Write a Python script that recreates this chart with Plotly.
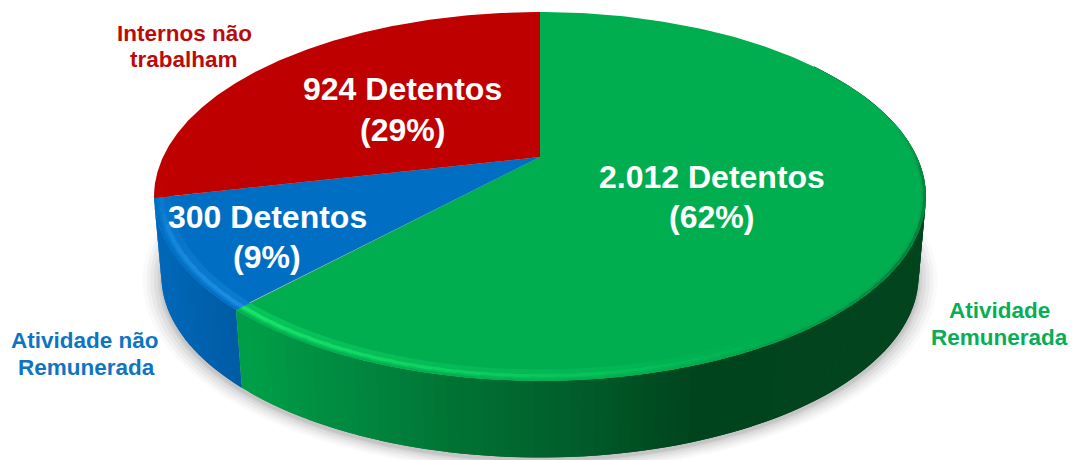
import numpy as np
import plotly.graph_objects as go

categories = ["Atividade<br>Remunerada", "Atividade não<br>Remunerada", "Internos não<br>trabalham"]
values = [2012, 300, 924]
percents = [62, 9, 29]
top_colors = ["#00AE50", "#006EC2", "#BF0000"]
label_colors = ["#06AE56", "#0F74C2", "#BC0A0A"]

# projection of the pie's disc, in page pixels
CX, CY, A, B, K = 540.0, 157.0, 377.0, 176.0, 0.214
DEPTH, INSET = 80.0, 0.981


def project(t, r=1.0, low=False):
    """t = clockwise angle from 12 o'clock, in degrees."""
    # small angular correction of the reference's 3-D rendering
    a = np.radians(np.asarray(t) + np.interp(t, [0, 224, 257, 360], [0, -1.0, 0, 0]))
    x, y = r * np.sin(a), r * np.cos(a)
    w = 1 + K * y
    px, py = A * x / w, -B * y / w
    if low:
        return CX + px * INSET, CY + py * 0.985 + DEPTH
    return CX + px, CY + py


def hex2rgb(h):
    return np.array([int(h[i:i + 2], 16) for i in (1, 3, 5)], float)


def rgb(c):
    c = np.clip(c, 0, 255).astype(int)
    return f"rgb({c[0]},{c[1]},{c[2]})"


def ramp(x, stops):
    xs = [s[0] for s in stops]
    return np.array([np.interp(x, xs, [hex2rgb(s[1])[i] for s in stops]) for i in range(3)])


GREEN_SIDE = [(238, "#00A049"), (350, "#008840"), (450, "#007334"), (560, "#005F2C"),
              (690, "#00441E"), (925, "#03441F")]
BLUE_SIDE = [(155, "#0068BA"), (190, "#0063B0"), (240, "#005BA3")]
side_ramps = [GREEN_SIDE, BLUE_SIDE, None]

shares = np.array(values, float) / sum(values) * 360
starts = np.concatenate([[0], np.cumsum(shares)[:-1]])
fig = go.Figure()


def poly(xs, ys, color):
    fig.add_trace(go.Scatter(x=xs, y=ys, mode="lines", fill="toself", fillcolor=color,
                             line=dict(color=color, width=0), hoverinfo="skip", showlegend=False))


# soft shadow under the base
tt = np.linspace(0, 360, 181)
for grow, alpha in [(1.05, .02), (1.04, .03), (1.03, .035), (1.02, .045), (1.01, .05), (1.004, .06)]:
    px, py = project(tt, 1.0, True)
    mx, my = CX, CY + 70
    poly(mx + (px - mx) * grow, my + (py - my) * grow + 3, f"rgba(0,0,0,{alpha})")

# side wall: strips painted left to right, each overlapping the next
for s0, sh, stops in list(zip(starts, shares, side_ramps))[::-1]:
    if stops is None:
        continue
    lo, hi = max(s0, 55), s0 + sh
    edges = np.linspace(lo, hi, max(2, int((hi - lo) / 1.5) + 1))
    for a, b in zip(edges[:-1], edges[1:]):
        a2 = max(lo, a - 1.5)
        xa, ya = project(a2)
        xb, yb = project(b)
        xc, yc = project(b, 1.0, True)
        xd, yd = project(a2, 1.0, True)
        poly([xa, xb, xc, xd, xa], [ya, yb, yc, yd, ya], rgb(ramp((xa + xb) / 2, stops)))

# top face
for s0, sh, col in zip(starts, shares, top_colors):
    ts = np.linspace(s0, s0 + sh, 240)
    px, py = project(ts)
    poly(np.r_[CX, px, CX], np.r_[CY, py, CY], col)


# bevel along the rim
def bevel(t):
    glow = np.interp(t, [150, 200, 228, 250, 262], [0, .55, .8, .55, 0])
    dark = np.interp(t, [80, 100, 125, 165], [.0, .5, .5, 0])
    return glow, dark


bands = [(1.0, .990, .10, .30), (.993, .984, .50, .05), (.987, .972, 1.0, 0), (.976, .960, .40, 0)]
light_add = [np.array([30, 70, 35]), np.array([35, 40, 40]), np.array([30, 10, 10])]
for idx, (s0, sh, col) in enumerate(zip(starts, shares, top_colors)):
    lo, hi = max(s0, 80), min(s0 + sh, 262)
    if hi <= lo:
        continue
    base = hex2rgb(col)
    edges = np.linspace(lo, hi, max(2, int((hi - lo) / 3) + 1))
    for r0, r1, gw, dw in bands:
        for a, b in zip(edges[:-1], edges[1:]):
            glow, dark = bevel((a + b) / 2)
            c = (base + light_add[idx] * glow * gw) * (1 - dark * dw * 1.6)
            a2 = max(lo, a - 2)
            xa, ya = project(a2, r0)
            xb, yb = project(b, r0)
            xc, yc = project(b, r1)
            xd, yd = project(a2, r1)
            poly([xa, xb, xc, xd, xa], [ya, yb, yc, yd, ya], rgb(c))

annotations = []


def label(x, y, text, size, color):
    annotations.append(dict(x=x, y=y, text=text, showarrow=False, align="center",
                            font=dict(family="Liberation Sans", size=size, color=color, weight="bold")))


value_pos = [((711.5, 177), (711.5, 216.5)), ((267, 217), (267, 256.5)), ((402.5, 89), (402.5, 130))]
name_pos = [((999.5, 310), (999.5, 337)), ((85, 340), (86, 367)), ((184.5, 33), (183.5, 59))]
for v, p, pos in zip(values, percents, value_pos):
    label(*pos[0], f"{v:,}".replace(",", ".") + " Detentos", 32, "white")
    label(*pos[1], f"({p}%)", 32, "white")
for name, col, pos in zip(categories, label_colors, name_pos):
    for line, xy in zip(name.split("<br>"), pos):
        label(*xy, line, 22.5, col)

fig.update_layout(
    width=1075, height=460, margin=dict(l=0, r=0, t=0, b=0),
    paper_bgcolor="white", plot_bgcolor="white", showlegend=False,
    xaxis=dict(range=[0, 1075], visible=False, fixedrange=True),
    yaxis=dict(range=[460, 0], visible=False, fixedrange=True),
    annotations=annotations,
)
fig.write_html("out.html", config=dict(displayModeBar=False),
               post_script="document.body.style.margin='0';document.body.style.overflow='hidden';")
